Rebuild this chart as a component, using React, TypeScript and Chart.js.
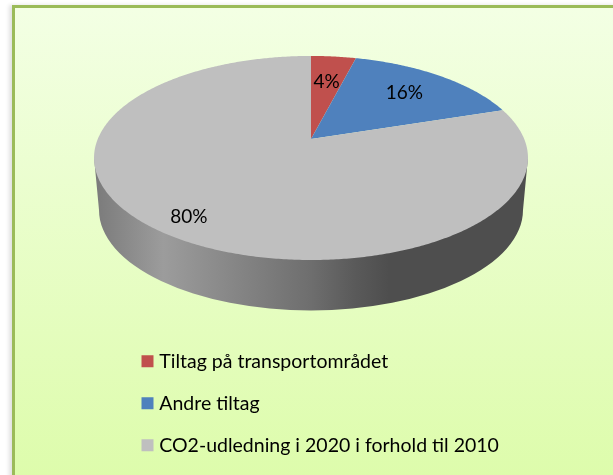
import React, { useEffect, useRef } from "react";
import { Chart, ArcElement, registerables } from "chart.js";

Chart.register(...registerables);

const categories = ["Tiltag på transportområdet", "Andre tiltag", "CO2-udledning i 2020 i forhold til 2010"];
const shares = [4, 16, 80];
const sliceColors = ["#c0504d", "#4f81bd", "#bfbfbf"];

// perspective view of the pie disc
const APEX_X = 311;
const APEX_Y = 139;
const SCALE_X = 213.2;
const SCALE_Y = 98.5;
const TILT = -0.186;

function project(r: number, a: number): [number, number] {
  const u = r * Math.cos(a);
  const v = r * Math.sin(a);
  const w = 1 + TILT * v;
  return [APEX_X + (SCALE_X * u) / w, APEX_Y + (SCALE_Y * v) / w];
}

class Arc3D extends ArcElement {
  static id = "arc3d";
  draw(ctx: CanvasRenderingContext2D) {
    const { startAngle, endAngle, options } = this as any;
    const steps = Math.max(8, Math.ceil((endAngle - startAngle) / 0.01));
    ctx.save();
    ctx.beginPath();
    ctx.moveTo(APEX_X, APEX_Y);
    for (let i = 0; i <= steps; i++) {
      const [x, y] = project(1, startAngle + ((endAngle - startAngle) * i) / steps);
      ctx.lineTo(x, y);
    }
    ctx.closePath();
    ctx.fillStyle = options.backgroundColor;
    ctx.fill();
    ctx.restore();
  }
}
Chart.register(Arc3D);
(Chart.defaults as any).datasets.pie.dataElementType = "arc3d";

const wallPlugin = {
  id: "wall",
  beforeDatasetsDraw(chart: any) {
    const ctx: CanvasRenderingContext2D = chart.ctx;
    const g = ctx.createLinearGradient(94, 0, 528, 0);
    g.addColorStop(0, "#7a7a7a");
    g.addColorStop(0.16, "#9c9c9c");
    g.addColorStop(0.5, "#6e6e6e");
    g.addColorStop(0.6, "#5a5a5a");
    g.addColorStop(0.68, "#4e4e4e");
    g.addColorStop(1, "#4e4e4e");
    ctx.save();
    ctx.beginPath();
    ctx.moveTo(94, 157);
    ctx.lineTo(99, 210);
    ctx.ellipse(311, 210, 212, 100.5, 0, Math.PI, 0, true);
    ctx.lineTo(528, 157);
    ctx.closePath();
    ctx.fillStyle = g;
    ctx.fill();
    ctx.restore();
  },
};

const labelRadii = [0.65, 0.7, 0.85];

const labelPlugin = {
  id: "sliceLabels",
  afterDatasetsDraw(chart: any) {
    const ctx: CanvasRenderingContext2D = chart.ctx;
    const arcs = chart.getDatasetMeta(0).data;
    ctx.save();
    ctx.font = "19px Lato";
    ctx.fillStyle = "#000";
    ctx.textAlign = "center";
    ctx.textBaseline = "middle";
    arcs.forEach((arc: any, i: number) => {
      const [x, y] = project(labelRadii[i], (arc.startAngle + arc.endAngle) / 2);
      ctx.fillText(`${shares[i]}%`, x, y);
    });
    ctx.restore();
  },
};

export default function App() {
  const ref = useRef<HTMLCanvasElement>(null);
  useEffect(() => {
    const chart = new Chart(ref.current!, {
      type: "pie",
      data: {
        labels: categories,
        datasets: [{ data: shares, backgroundColor: sliceColors, borderWidth: 0 }],
      },
      options: {
        animation: false,
        responsive: false,
        events: [],
        layout: { padding: { left: 123, right: 82, bottom: 10, top: 0 } },
        plugins: {
          tooltip: { enabled: false },
          legend: {
            position: "bottom",
            align: "start",
            labels: {
              boxWidth: 4,
              boxHeight: 4,
              padding: 22.5,
              color: "#000",
              font: { family: "Lato", size: 19.5 },
              generateLabels(c: any) {
                const items = (Chart as any).overrides.pie.plugins.legend.labels.generateLabels(c);
                return items.map((it: any) => ({ ...it, strokeStyle: it.fillStyle, lineWidth: 8 }));
              },
            },
          },
        },
      },
      plugins: [wallPlugin, labelPlugin],
    } as any);
    return () => chart.destroy();
  }, []);
  return (
    <div style={{ position: "fixed", left: 0, top: 0, width: 613, height: 475, overflow: "hidden", background: "#fff" }}>
      <div
        style={{
          position: "absolute",
          left: 12,
          top: 5,
          width: 640,
          height: 500,
          boxSizing: "border-box",
          borderLeft: "3px solid #9bbb59",
          borderTop: "3px solid #9bbb59",
          background: "linear-gradient(180deg, #f3ffe4 0%, #dcfca8 100%)",
          boxShadow: "-3px 0 4px rgba(0,0,0,0.12)",
        }}
      />
      <canvas ref={ref} width={613} height={475} style={{ position: "absolute", left: 0, top: 0 }} />
    </div>
  );
}
